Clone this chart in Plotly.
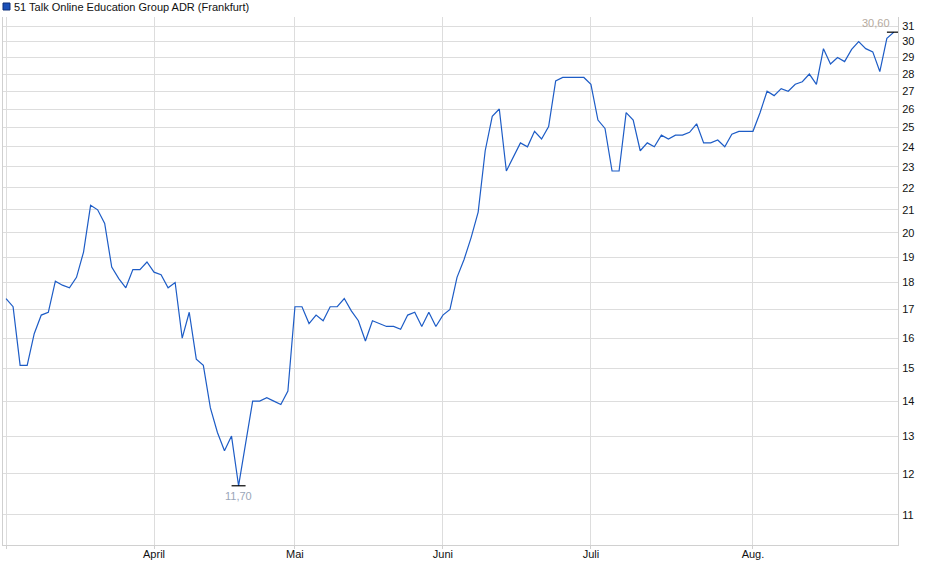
import math
import plotly.graph_objects as go

title_text = "51 Talk Online Education Group ADR (Frankfurt)"

prices = [
    17.4, 17.1, 15.1, 15.1, 16.15, 16.8, 16.9, 18.05, 17.9, 17.8,
    18.2, 19.2, 21.2, 21.0, 20.4, 18.6, 18.15, 17.8, 18.5, 18.5,
    18.8, 18.4, 18.3, 17.8, 18.0, 16.0, 16.9, 15.3, 15.1, 13.8,
    13.1, 12.6, 13.0, 11.7, 12.8, 14.0, 14.0, 14.1, 14.0, 13.9,
    14.3, 17.1, 17.1, 16.5, 16.8, 16.6, 17.1, 17.1, 17.4, 16.95,
    16.6, 15.9, 16.6, 16.5, 16.4, 16.4, 16.3, 16.8, 16.9, 16.4,
    16.9, 16.4, 16.8, 17.0, 18.2, 18.9, 19.8, 20.9, 23.8, 25.6,
    26.0, 22.8, 23.45, 24.2, 24.0, 24.8, 24.4, 25.05, 27.6, 27.8,
    27.8, 27.8, 27.8, 27.4, 25.4, 24.95, 22.8, 22.8, 25.8, 25.4,
    23.8, 24.2, 24.0, 24.6, 24.4, 24.6, 24.6, 24.75, 25.2, 24.2,
    24.2, 24.35, 24.0, 24.65, 24.8, 24.8, 24.8, 25.8, 27.0, 26.75,
    27.15, 27.0, 27.4, 27.55, 28.0, 27.4, 29.55, 28.6, 29.0, 28.75,
    29.5, 30.0, 29.55, 29.35, 28.15, 30.2, 30.6,
]
days = list(range(len(prices)))

month_ticks = [0, 21, 41, 62, 83, 106]
month_labels = ["", "April", "Mai", "Juni", "Juli", "Aug."]

y_ticks = list(range(11, 32))
y_labels = [str(v) for v in y_ticks]

line_color = "#1d5cc6"
font_family = "Liberation Sans, Arial, sans-serif"

i_min = min(days, key=lambda i: prices[i])
i_max = max(days, key=lambda i: prices[i])


def fmt(v):
    return f"{v:.2f}".replace(".", ",")


fig = go.Figure()
fig.add_trace(go.Scatter(
    x=days, y=prices, mode="lines",
    line=dict(color=line_color, width=1.2),
    showlegend=False, hoverinfo="skip",
))
fig.add_trace(go.Scatter(
    x=[days[i_min], days[i_max]], y=[prices[i_min], prices[i_max]],
    mode="markers",
    marker=dict(symbol="line-ew", size=10, color="black",
                line=dict(color="black", width=1.2)),
    showlegend=False, hoverinfo="skip",
))

fig.add_annotation(
    x=days[i_min], y=math.log10(prices[i_min]), xref="x", yref="y",
    text=fmt(prices[i_min]), showarrow=False, yshift=-10,
    font=dict(family=font_family, size=11, color="#9aa6b8"),
)
fig.add_annotation(
    x=days[i_max], y=math.log10(prices[i_max]), xref="x", yref="y",
    text=fmt(prices[i_max]), showarrow=False, yshift=9,
    xanchor="right", xshift=-2,
    font=dict(family=font_family, size=11, color="#b5aa9e"),
)

# legend-like title
fig.add_shape(type="rect", xref="paper", yref="paper",
              x0=0.0, x1=7 / 895, y0=(545 - 10) / 528, y1=(545 - 3) / 528,
              fillcolor="#1a50b8", line=dict(color="#0c2f78", width=1))
fig.add_annotation(
    x=9 / 895, y=(545 - 6.5) / 528, xref="paper", yref="paper",
    text=title_text, showarrow=False, xanchor="left", yanchor="middle",
    font=dict(family=font_family, size=11, color="#111111"),
)

fig.update_layout(
    width=940, height=579,
    margin=dict(l=3, r=42, t=17, b=34),
    paper_bgcolor="white", plot_bgcolor="white",
    font=dict(family=font_family, size=11, color="#111111"),
    xaxis=dict(
        range=[-0.43, 126.58], tickvals=month_ticks, ticktext=month_labels,
        showgrid=True, gridcolor="#dddddd", gridwidth=1,
        showline=True, linecolor="#d0d0d0", linewidth=1,
        ticks="outside", ticklen=3, tickcolor="#d0d0d0",
        ticklabelstandoff=-4,
        zeroline=False, fixedrange=True,
        tickfont=dict(family=font_family, size=11, color="#111111"),
    ),
    yaxis=dict(
        type="log", side="right",
        range=[math.log10(10.32), math.log10(31.6)],
        tickvals=y_ticks, ticktext=y_labels,
        showgrid=True, gridcolor="#dddddd", gridwidth=1,
        showline=True, linecolor="#d0d0d0", linewidth=1, mirror=True,
        ticks="", ticklabelstandoff=1,
        zeroline=False, fixedrange=True,
        tickfont=dict(family=font_family, size=11, color="#111111"),
    ),
)

fig.write_html(
    "out.html",
    config={"displayModeBar": False},
    post_script="document.body.style.margin='0';",
)
